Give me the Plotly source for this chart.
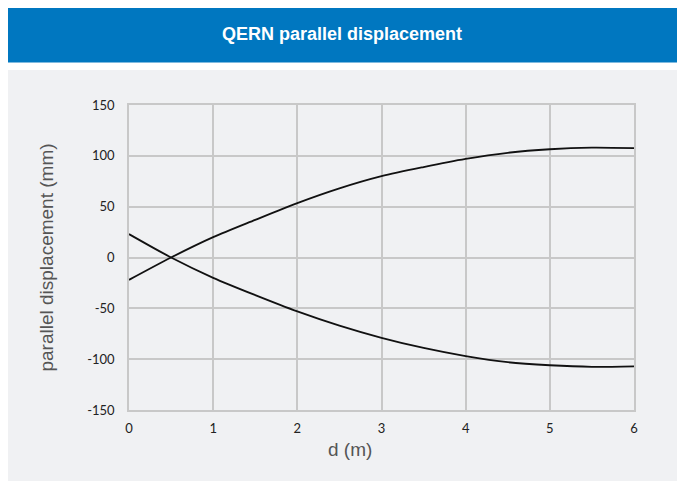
import plotly.graph_objects as go

d_m = [0, 0.5, 1, 1.5, 2, 2.5, 3, 3.5, 4, 4.5, 5, 5.5, 6]
upper_mm = [-22, 0, 20, 37, 53.5, 68, 80, 89, 97, 103, 106.5, 108, 107.5]
lower_mm = [23, 0, -20, -37, -53, -67, -79, -89, -97, -103, -106, -107.5, -107]
x_ticks = [0, 1, 2, 3, 4, 5, 6]
y_ticks = [-150, -100, -50, 0, 50, 100, 150]
y_tick_labels = ["-150", "-100", "-50", "0", "50", "100", "150"]

title_text = "QERN parallel displacement"
x_title = "d (m)"
y_title = "parallel displacement (mm)"

BG = "#f0f1f3"
GRID = "#c8c8c8"
OFF = 8  # page body margin offset

fig = go.Figure()
for ys in (upper_mm, lower_mm):
    fig.add_trace(go.Scatter(x=d_m, y=ys, mode="lines",
                             line=dict(color="#111111", width=1.8, shape="spline", smoothing=0.8),
                             showlegend=False, hoverinfo="skip"))

L, R, T, B = 129 - OFF, 634 - OFF, 105 - OFF, 410 - OFF
W, H = 685 - OFF, 484 - OFF

def px(v):
    return (v - OFF - L) / (R - L)

def py(v):
    return (B - (v - OFF)) / (B - T)

fig.add_shape(type="rect", xref="paper", yref="paper", layer="below",
              x0=px(8), x1=px(682), y0=py(70), y1=py(481),
              fillcolor=BG, line=dict(width=0))
fig.add_shape(type="rect", xref="paper", yref="paper", layer="below",
              x0=px(4), x1=px(690), y0=py(5), y1=py(62.5),
              fillcolor="#0077c0", line=dict(width=0))
fig.add_annotation(xref="paper", yref="paper", x=px(342), y=py(33.5),
                   text="<b>" + title_text + "</b>", showarrow=False,
                   font=dict(family="Liberation Sans, Arial, sans-serif", size=18, color="white"),
                   xanchor="center", yanchor="middle")

tick_font = dict(family="Lato, Open Sans, sans-serif", size=13, color="#222")
title_font = dict(family="Liberation Sans, Arial, sans-serif", size=19, color="#555")

fig.add_annotation(xref="paper", yref="paper", x=px(350), y=py(449),
                   text=x_title, showarrow=False, font=title_font,
                   xanchor="center", yanchor="middle")

fig.update_layout(
    width=W, height=H,
    margin=dict(l=L, r=W - R, t=T, b=H - B),
    paper_bgcolor="white", plot_bgcolor=BG,
    xaxis=dict(range=[0, 6], tickvals=x_ticks, showgrid=True, gridcolor=GRID, gridwidth=1.5,
               zeroline=False, showline=True, linecolor=GRID, linewidth=1.5, mirror=True,
               ticks="", ticklabelstandoff=6, tickfont=tick_font),
    yaxis=dict(range=[-150, 150], tickvals=y_ticks, ticktext=y_tick_labels,
               showgrid=True, gridcolor=GRID, gridwidth=1.5,
               zeroline=False, showline=True, linecolor=GRID, linewidth=1.5, mirror=True,
               ticks="", ticklabelstandoff=10, tickfont=tick_font,
               title=dict(text=y_title, font=title_font, standoff=29)),
)

fig.write_html("out.html")
